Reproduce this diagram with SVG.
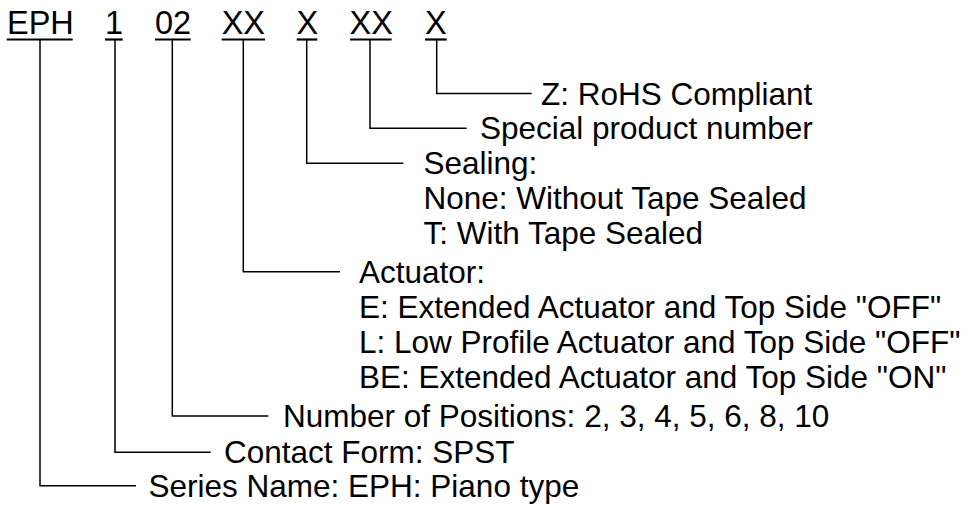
<svg xmlns="http://www.w3.org/2000/svg" width="972" height="505" viewBox="0 0 972 505">
<style>
text{font-family:"Liberation Sans",Arial,Helvetica,sans-serif;font-size:31.5px;fill:#000}
.code{font-size:32.5px}
.ul{stroke:#000;stroke-width:2.2;fill:none}
.c{stroke:#000;stroke-width:1.5;fill:none}
</style>
<rect width="972" height="505" fill="#fff"/>
<g id="code-series"><text class="code" x="7" y="34">EPH</text><line class="ul" x1="6.7" y1="39.5" x2="72.7" y2="39.5"/></g>
<g id="code-contact"><text class="code" x="105" y="34">1</text><line class="ul" x1="105" y1="39.5" x2="122.7" y2="39.5"/></g>
<g id="code-positions"><text class="code" x="155" y="34">02</text><line class="ul" x1="155" y1="39.5" x2="190.7" y2="39.5"/></g>
<g id="code-actuator"><text class="code" x="221.7" y="34">XX</text><line class="ul" x1="221.7" y1="39.5" x2="265" y2="39.5"/></g>
<g id="code-sealing"><text class="code" x="296.5" y="34">X</text><line class="ul" x1="296.7" y1="39.5" x2="317.3" y2="39.5"/></g>
<g id="code-special"><text class="code" x="349.5" y="34">XX</text><line class="ul" x1="350" y1="39.5" x2="391.7" y2="39.5"/></g>
<g id="code-rohs"><text class="code" x="425" y="34">X</text><line class="ul" x1="425" y1="39.5" x2="446.7" y2="39.5"/></g>
<g id="connectors">
<polyline class="c" points="436.7,40 436.7,93.5 531.7,93.5"/>
<polyline class="c" points="370,40 370,128.3 466.7,128.3"/>
<polyline class="c" points="306.7,40 306.7,163.3 403.3,163.3"/>
<polyline class="c" points="243.3,40 243.3,271.7 340,271.7"/>
<polyline class="c" points="172.3,40 172.3,416 268.3,416"/>
<polyline class="c" points="115,40 115,452.3 210.7,452.3"/>
<polyline class="c" points="40,40 40,485.7 136,485.7"/>
</g>
<g id="desc-rohs"><text x="541" y="104.5">Z: RoHS Compliant</text></g>
<g id="desc-special"><text x="480" y="139.3">Special product number</text></g>
<g id="desc-sealing"><text x="423.5" y="174.3">Sealing:</text><text x="423.5" y="209.3">None: Without Tape Sealed</text><text x="423.5" y="244.3">T: With Tape Sealed</text></g>
<g id="desc-actuator"><text x="359" y="282.7">Actuator:</text><text x="359" y="317.7">E: Extended Actuator and Top Side "OFF"</text><text x="359" y="352.7">L: Low Profile Actuator and Top Side "OFF"</text><text x="359" y="387.7">BE: Extended Actuator and Top Side "ON"</text></g>
<g id="desc-positions"><text x="283" y="427">Number of Positions: 2, 3, 4, 5, 6, 8, 10</text></g>
<g id="desc-contact"><text x="224" y="463.3">Contact Form: SPST</text></g>
<g id="desc-series"><text x="148.5" y="496.7">Series Name: EPH: Piano type</text></g>
</svg>
